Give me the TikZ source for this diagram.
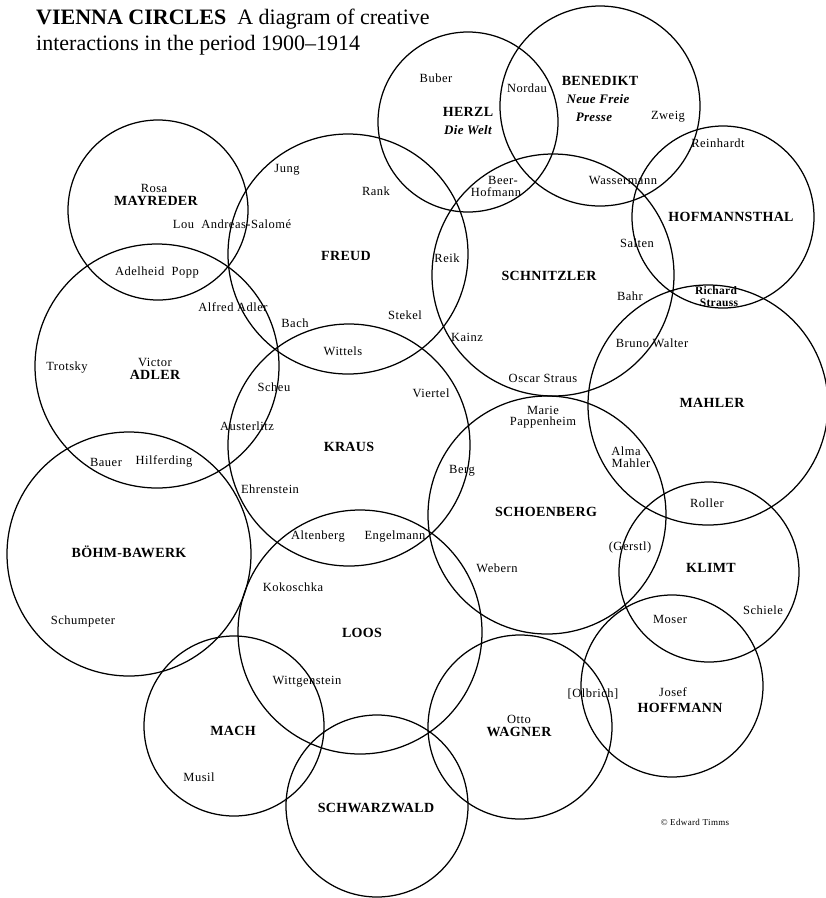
\documentclass[tikz,border=0pt]{standalone}
\usepackage{fontspec}
\setmainfont{Liberation Serif}
\newfontfamily\whofont[LetterSpace=4]{Liberation Serif}
\newfontfamily\headfont[LetterSpace=2.5]{Liberation Serif}
\begin{document}
\begin{tikzpicture}[x=1pt, y=-1pt,
		circ/.style={circle, draw=black, line width=1.25pt, inner sep=0pt},
		head/.style={font=\headfont\fontsize{14}{15}\selectfont\bfseries, inner sep=0pt},
		who/.style={font=\whofont\fontsize{12.5}{13}\selectfont, inner sep=0pt},
		paper/.style={font=\headfont\fontsize{13}{14}\selectfont\bfseries\itshape, inner sep=0pt},
		title/.style={font=\fontsize{22}{26}\selectfont, anchor=base west, inner sep=0pt}]
		\useasboundingbox (0,0) rectangle (826,898);
		\node[title] (title1) at (36,24) {\textbf{VIENNA CIRCLES}\ \ A diagram of creative};
		\node[title] (title2) at (36,50) {interactions in the period 1900--1914};
		
		\node[circ, minimum size=180pt] (herzl) at (468,122) {};
		\node[circ, minimum size=200pt] (benedikt) at (600,106) {};
		\node[circ, minimum size=180pt] (mayreder) at (158,210) {};
		\node[circ, minimum size=240pt] (freud) at (348,254) {};
		\node[circ, minimum size=242pt] (schnitzler) at (553,275) {};
		\node[circ, minimum size=182pt] (hofmannsthal) at (723,217) {};
		\node[circ, minimum size=244pt] (adler) at (157,366) {};
		\node[circ, minimum size=242pt] (kraus) at (349,445) {};
		\node[circ, minimum size=240pt] (mahler) at (708,405) {};
		\node[circ, minimum size=244pt] (boehm) at (129,554) {};
		\node[circ, minimum size=238pt] (schoenberg) at (547,515) {};
		\node[circ, minimum size=180pt] (klimt) at (709,572) {};
		\node[circ, minimum size=244pt] (loos) at (360,632) {};
		\node[circ, minimum size=180pt] (mach) at (234,726) {};
		\node[circ, minimum size=182pt] (schwarzwald) at (377,806) {};
		\node[circ, minimum size=184pt] (wagner) at (520,727) {};
		\node[circ, minimum size=182pt] (hoffmann) at (672,686) {};
		
		% Herzl and Benedikt
		\node[who] (buber) at (436,78) {Buber};
		\node[who] (nordau) at (527,88) {Nordau};
		\node[head] (herzlname) at (468,112) {HERZL};
		\node[paper] (welt) at (468,130) {Die Welt};
		\node[head] (benediktname) at (600,81) {BENEDIKT};
		\node[paper] (nfp1) at (598,99) {Neue Freie};
		\node[paper] (nfp2) at (594,117) {Presse};
		\node[who] (zweig) at (668,117) {Zweig};
		\node[who] (reinhardt) at (718,143) {Reinhardt};
		\node[who] (wassermann) at (623,180) {Wassermann};
		\node[who] (beer1) at (503,180) {Beer-};
		\node[who] (beer2) at (496,192) {Hofmann};
		
		% Freud, Mayreder, Adler
		\node[who] (rosa) at (154,188) {Rosa};
		\node[head] (mayredername) at (156,201) {MAYREDER};
		\node[who] (jung) at (287,170) {Jung};
		\node[who] (rank) at (376,191) {Rank};
		\node[who] (salome) at (232,224) {Lou\ \ Andreas-Salomé};
		\node[head] (freudname) at (346,256) {FREUD};
		\node[who] (popp) at (157,272) {Adelheid\ \ Popp};
		\node[who] (aadler) at (233,307) {Alfred\ Adler};
		\node[who] (stekel) at (405,315) {Stekel};
		\node[who] (bach) at (295,323) {Bach};
		\node[who] (wittels) at (343,351) {Wittels};
		\node[who] (trotsky) at (67,368) {Trotsky};
		\node[who] (victor) at (155,362) {Victor};
		\node[head] (adlername) at (155,375) {ADLER};
		\node[who] (scheu) at (274,387) {Scheu};
		\node[who] (austerlitz) at (247,426) {Austerlitz};
		\node[who] (bauer) at (106,462) {Bauer};
		\node[who] (hilferding) at (164,461) {Hilferding};
		
		% Schnitzler, Hofmannsthal, Mahler
		\node[who] (reik) at (447,258) {Reik};
		\node[head] (schnitzlername) at (549,276) {SCHNITZLER};
		\node[who] (salten) at (637,243) {Salten};
		\node[head] (hofmannsthalname) at (731,217) {HOFMANNSTHAL};
		\node[who] (bahr) at (630,296) {Bahr};
		\node[head, font=\headfont\fontsize{11.5}{12}\selectfont\bfseries] (richard) at (716,291) {Richard};
		\node[head, font=\headfont\fontsize{11.5}{12}\selectfont\bfseries] (strauss) at (719,303) {Strauss};
		\node[who] (kainz) at (467,337) {Kainz};
		\node[who] (walter) at (652,343) {Bruno Walter};
		\node[who] (ostraus) at (543,378) {Oscar Straus};
		\node[head] (mahlername) at (712,403) {MAHLER};
		
		% Kraus, Schoenberg, Klimt
		\node[who] (viertel) at (431,393) {Viertel};
		\node[head] (krausname) at (349,447) {KRAUS};
		\node[who] (marie) at (543,410) {Marie};
		\node[who] (pappenheim) at (543,422) {Pappenheim};
		\node[who] (alma) at (626,451) {Alma};
		\node[who] (almamahler) at (631,463) {Mahler};
		\node[who] (berg) at (462,471) {Berg};
		\node[who] (ehrenstein) at (270,489) {Ehrenstein};
		\node[who] (roller) at (707,503) {Roller};
		\node[head] (schoenbergname) at (546,512) {SCHOENBERG};
		\node[who] (altenberg) at (318,537) {Altenberg};
		\node[who] (engelmann) at (395,537) {Engelmann};
		\node[who] (gerstl) at (630,547) {(Gerstl)};
		\node[head] (boehmname) at (129,552) {BÖHM-BAWERK};
		\node[head] (klimtname) at (711,568) {KLIMT};
		\node[who] (webern) at (497,568) {Webern};
		\node[who] (kokoschka) at (293,587) {Kokoschka};
		\node[who] (schiele) at (763,610) {Schiele};
		\node[who] (moser) at (670,619) {Moser};
		\node[who] (schumpeter) at (83,621) {Schumpeter};
		
		% Loos, Mach, Wagner, Hoffmann
		\node[head] (loosname) at (362,633) {LOOS};
		\node[who] (wittgenstein) at (307,682) {Wittgenstein};
		\node[who] (olbrich) at (593,694) {[Olbrich]};
		\node[who] (josef) at (673,692) {Josef};
		\node[head] (hoffmannname) at (680,708) {HOFFMANN};
		\node[who] (otto) at (519,719) {Otto};
		\node[head] (wagnername) at (519,732) {WAGNER};
		\node[head] (machname) at (233,731) {MACH};
		\node[who] (musil) at (199,777) {Musil};
		\node[head] (schwarzwaldname) at (376,808) {SCHWARZWALD};
		\node[who, font=\whofont\fontsize{9}{10}\selectfont] (timms) at (695,822) {© Edward Timms};
		
	\end{tikzpicture}
\end{document}
